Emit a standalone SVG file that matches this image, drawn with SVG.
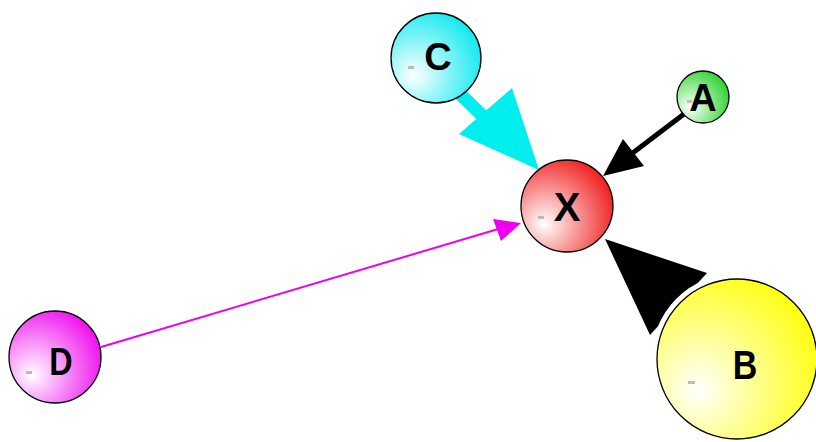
<svg xmlns="http://www.w3.org/2000/svg" width="816" height="442" viewBox="0 0 816 442">
<style>
.n{stroke:#000;stroke-width:1.3}
.t{font-family:"Liberation Sans",Arial,sans-serif;font-weight:bold;fill:#000;text-anchor:middle}
.m{fill:#bbb}
</style>
<defs>
<radialGradient id="gC" cx="0.3" cy="0.65" r="0.8" fx="0.25" fy="0.7"><stop offset="0" stop-color="#fff"/><stop offset="1" stop-color="#00e8ee"/></radialGradient>
<radialGradient id="gX" cx="0.3" cy="0.65" r="0.8" fx="0.25" fy="0.7"><stop offset="0" stop-color="#fff"/><stop offset="1" stop-color="#f01010"/></radialGradient>
<radialGradient id="gA" cx="0.3" cy="0.65" r="0.8" fx="0.25" fy="0.7"><stop offset="0" stop-color="#fff"/><stop offset="1" stop-color="#20d020"/></radialGradient>
<radialGradient id="gB" cx="0.3" cy="0.65" r="0.8" fx="0.25" fy="0.7"><stop offset="0" stop-color="#fff"/><stop offset="1" stop-color="#ffff00"/></radialGradient>
<radialGradient id="gD" cx="0.3" cy="0.65" r="0.8" fx="0.25" fy="0.7"><stop offset="0" stop-color="#fff"/><stop offset="1" stop-color="#ee00ee"/></radialGradient>
</defs>
<g id="connectors">
<g id="e-C-X">
<line x1="458" y1="92" x2="494" y2="127" stroke="#00eeee" stroke-width="13"/>
<polygon points="539,170 459,134 512,88" fill="#00eeee"/>
</g>
<g id="e-A-X">
<line x1="684" y1="114" x2="630" y2="155" stroke="#000" stroke-width="5"/>
<polygon points="603,176 623,139 644,166" fill="#000"/>
</g>
<g id="e-B-X">
<line x1="700" y1="325" x2="670" y2="298" stroke="#000" stroke-width="20"/>
<polygon points="605,239 707,273 650,335" fill="#000"/>
</g>
<g id="e-D-X">
<line x1="101" y1="347" x2="505" y2="227" stroke="#ee00ee" stroke-width="2"/>
<polygon points="521,223 493,219 501,241" fill="#ee00ee"/>
</g>
</g>
<g id="C"><circle class="n" cx="436" cy="58" r="45" fill="url(#gC)"/><rect class="m" x="408" y="66" width="6" height="3"/><text class="t" x="438" y="70" font-size="38">C</text></g>
<g id="X"><circle class="n" cx="567" cy="206" r="46" fill="url(#gX)"/><rect class="m" x="538" y="216" width="6" height="3"/><text class="t" x="567" y="221" font-size="40">X</text></g>
<g id="A"><circle class="n" cx="703" cy="97" r="26" fill="url(#gA)"/><rect class="m" x="687" y="100" width="5" height="3"/><text class="t" x="703" y="111" font-size="38">A</text></g>
<g id="B"><circle cx="737" cy="359" r="81" fill="none" stroke="#fff" stroke-width="9"/><circle class="n" cx="737" cy="359" r="80" fill="url(#gB)"/><rect class="m" x="688" y="381" width="7" height="3"/><text class="t" x="745" y="379" font-size="40" transform="translate(745 0) scale(0.85 1) translate(-745 0)">B</text></g>
<g id="D"><circle class="n" cx="55" cy="357" r="46" fill="url(#gD)"/><rect class="m" x="26" y="371" width="6" height="3"/><text class="t" x="61" y="375" font-size="38" transform="translate(61 0) scale(0.85 1) translate(-61 0)">D</text></g>
</svg>
